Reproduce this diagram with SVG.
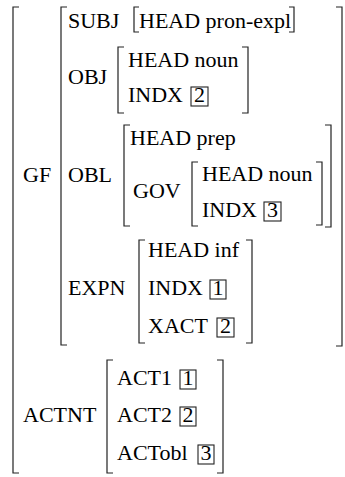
<svg xmlns="http://www.w3.org/2000/svg" width="345" height="477" viewBox="0 0 345 477" font-family="Liberation Serif, Times New Roman, serif" font-size="22">
<style>
.br{fill:none;stroke:#222;stroke-width:1.2}
.bx{fill:none;stroke:#222;stroke-width:1.1}
</style>
<rect width="345" height="477" fill="#fff"/>
<g id="outer">
<path class="br" d="M19,7H13V473H19"/>
<text x="23" y="182">GF</text>
<text x="23" y="422">ACTNT</text>
</g>
<g id="gf">
<path class="br" d="M67,7H61V345H67"/>
<path class="br" d="M336,7H342V346H336"/>
<text x="68" y="28">SUBJ</text>
<text x="68" y="84">OBJ</text>
<text x="68" y="182">OBL</text>
<text x="68" y="295">EXPN</text>
</g>
<g id="subj">
<path class="br" d="M139,7H134V32H139"/>
<path class="br" d="M289,7H294V32H289"/>
<text x="139" y="28">HEAD pron-expl</text>
</g>
<g id="obj">
<path class="br" d="M124,47H118V113H124"/>
<path class="br" d="M242,47H248V113H242"/>
<text x="128" y="67">HEAD noun</text>
<text x="128" y="102">INDX</text>
<rect class="bx" x="191" y="87" width="17" height="19"/>
<text x="194" y="102">2</text>
</g>
<g id="obl">
<path class="br" d="M130,125H124V226H130"/>
<path class="br" d="M325,125H331V227H325"/>
<text x="130" y="145">HEAD prep</text>
<text x="133" y="198">GOV</text>
</g>
<g id="gov">
<path class="br" d="M198,162H192V226H198"/>
<path class="br" d="M316,162H322V225H316"/>
<text x="202" y="181">HEAD noun</text>
<text x="202" y="217">INDX</text>
<rect class="bx" x="264" y="202" width="17" height="19"/>
<text x="267" y="217">3</text>
</g>
<g id="expn">
<path class="br" d="M145,240H139V343H145"/>
<path class="br" d="M246,240H252V343H246"/>
<text x="148" y="257">HEAD inf</text>
<text x="148" y="295">INDX</text>
<rect class="bx" x="210" y="280" width="16" height="19"/>
<text x="212.5" y="295">1</text>
<text x="148" y="333">XACT</text>
<rect class="bx" x="217" y="318" width="17" height="19"/>
<text x="220" y="333">2</text>
</g>
<g id="actnt">
<path class="br" d="M113,360H107V473H113"/>
<path class="br" d="M217,360H223V473H217"/>
<text x="117" y="385">ACT1</text>
<rect class="bx" x="180" y="370" width="16" height="19"/>
<text x="182.5" y="385">1</text>
<text x="117" y="422">ACT2</text>
<rect class="bx" x="180" y="407" width="16" height="19"/>
<text x="182.5" y="422">2</text>
<text x="117" y="460">ACTobl</text>
<rect class="bx" x="198" y="445" width="16" height="19"/>
<text x="200.5" y="460">3</text>
</g>
<g id="connectors"></g>
</svg>
